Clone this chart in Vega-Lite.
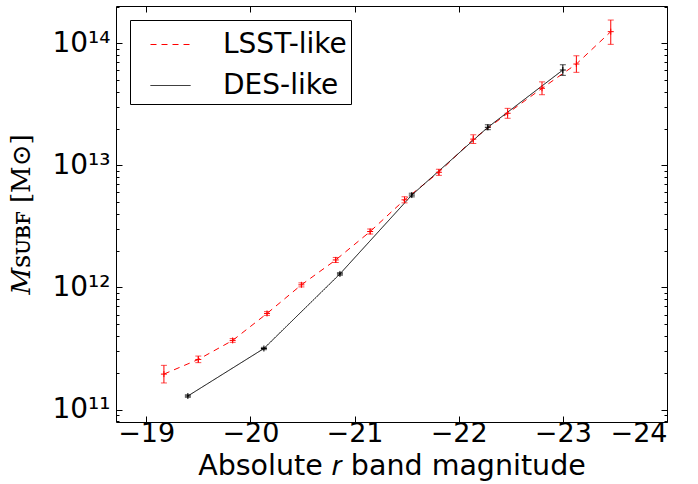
{
  "$schema": "https://vega.github.io/schema/vega-lite/v6.json",
  "width": 551,
  "height": 416,
  "autosize": {"type": "none"},
  "padding": {"left": 116, "top": 6, "right": 31, "bottom": 62},
  "config": {
    "view": {"stroke": "black", "strokeWidth": 1},
    "font": "DejaVu Sans",
    "axis": {"domain": false, "grid": false, "labelColor": "black", "tickColor": "black", "titleColor": "black", "labelFont": "DejaVu Sans", "titleFont": "DejaVu Sans", "titleFontWeight": "normal"},
    "legend": {"orient": "top-left", "offset": 14, "symbolType": "stroke", "symbolSize": 1600, "symbolStrokeWidth": 1, "labelFontSize": 28, "labelFont": "DejaVu Sans", "labelColor": "black", "strokeColor": "black", "fillColor": "white", "strokeWidth": 1, "padding": 4, "rowPadding": 6, "labelOffset": 32, "symbolOffset": 16, "labelLimit": 400, "cornerRadius": 0}
  },
  "data": {"values": [
    {"survey": "LSST-like", "mag": -19.17, "mass": 1.95e11, "lo": 1.65e11, "hi": 2.30e11},
    {"survey": "LSST-like", "mag": -19.50, "mass": 2.57e11, "lo": 2.42e11, "hi": 2.74e11},
    {"survey": "LSST-like", "mag": -19.83, "mass": 3.68e11, "lo": 3.55e11, "hi": 3.81e11},
    {"survey": "LSST-like", "mag": -20.16, "mass": 6.12e11, "lo": 5.90e11, "hi": 6.34e11},
    {"survey": "LSST-like", "mag": -20.49, "mass": 1.05e12, "lo": 1.01e12, "hi": 1.09e12},
    {"survey": "LSST-like", "mag": -20.82, "mass": 1.68e12, "lo": 1.60e12, "hi": 1.76e12},
    {"survey": "LSST-like", "mag": -21.15, "mass": 2.87e12, "lo": 2.74e12, "hi": 3.01e12},
    {"survey": "LSST-like", "mag": -21.48, "mass": 5.22e12, "lo": 4.93e12, "hi": 5.53e12},
    {"survey": "LSST-like", "mag": -21.81, "mass": 8.77e12, "lo": 8.28e12, "hi": 9.29e12},
    {"survey": "LSST-like", "mag": -22.14, "mass": 1.64e13, "lo": 1.51e13, "hi": 1.78e13},
    {"survey": "LSST-like", "mag": -22.47, "mass": 2.67e13, "lo": 2.43e13, "hi": 2.93e13},
    {"survey": "LSST-like", "mag": -22.80, "mass": 4.28e13, "lo": 3.79e13, "hi": 4.83e13},
    {"survey": "LSST-like", "mag": -23.13, "mass": 6.76e13, "lo": 5.78e13, "hi": 7.90e13},
    {"survey": "LSST-like", "mag": -23.46, "mass": 1.245e14, "lo": 9.8e13, "hi": 1.55e14},
    {"survey": "DES-like", "mag": -19.40, "mass": 1.29e11, "lo": 1.26e11, "hi": 1.32e11},
    {"survey": "DES-like", "mag": -20.13, "mass": 3.16e11, "lo": 3.09e11, "hi": 3.23e11},
    {"survey": "DES-like", "mag": -20.86, "mass": 1.29e12, "lo": 1.26e12, "hi": 1.32e12},
    {"survey": "DES-like", "mag": -21.55, "mass": 5.71e12, "lo": 5.52e12, "hi": 5.91e12},
    {"survey": "DES-like", "mag": -22.28, "mass": 2.05e13, "lo": 1.96e13, "hi": 2.15e13},
    {"survey": "DES-like", "mag": -23.00, "mass": 6.04e13, "lo": 5.46e13, "hi": 6.67e13}
  ]},
  "resolve": {"axis": {"x": "independent", "y": "independent"}},
  "layer": [
    {
      "mark": {"type": "line", "strokeWidth": 1},
      "encoding": {
        "x": {"field": "mag", "type": "quantitative",
          "scale": {"domain": [-24, -18.71], "reverse": true, "nice": false, "zero": false},
          "axis": {"orient": "bottom", "values": [-19, -20, -21, -22, -23, -24], "tickSize": -6, "labelFontSize": 27, "labelPadding": 4, "title": "Absolute 𝑟 band magnitude", "titleFontSize": 28.5, "titlePadding": 5}},
        "y": {"field": "mass", "type": "quantitative",
          "scale": {"type": "log", "domain": [7.9e10, 2.02e14], "nice": false},
          "axis": {"orient": "left",
            "values": [8e10, 9e10, 1e11, 2e11, 3e11, 4e11, 5e11, 6e11, 7e11, 8e11, 9e11, 1e12, 2e12, 3e12, 4e12, 5e12, 6e12, 7e12, 8e12, 9e12, 1e13, 2e13, 3e13, 4e13, 5e13, 6e13, 7e13, 8e13, 9e13, 1e14, 2e14],
            "labelExpr": "datum.value == 1e11 ? '10¹¹' : datum.value == 1e12 ? '10¹²' : datum.value == 1e13 ? '10¹³' : datum.value == 1e14 ? '10¹⁴' : ''",
            "tickSize": {"condition": {"test": "datum.value == 1e11 || datum.value == 1e12 || datum.value == 1e13 || datum.value == 1e14", "value": -6}, "value": -3},
            "labelFontSize": 28, "labelPadding": 12,
            "title": "𝑀ꜱᴜʙꜰ [M⊙]", "titleFont": "DejaVu Serif", "titleFontSize": 26, "titlePadding": 17}},
        "color": {"field": "survey", "type": "nominal",
          "scale": {"domain": ["LSST-like", "DES-like"], "range": ["#ff0000", "#000000"]},
          "legend": {"title": null}},
        "strokeDash": {"field": "survey", "type": "nominal",
          "scale": {"domain": ["LSST-like", "DES-like"], "range": [[6, 5], [1, 0]]},
          "legend": {"title": null}},
        "order": {"field": "mag", "type": "quantitative", "sort": "descending"}
      }
    },
    {
      "mark": {"type": "rule", "strokeWidth": 1},
      "encoding": {
        "x": {"field": "mag", "type": "quantitative", "axis": null},
        "y": {"field": "lo", "type": "quantitative", "axis": null},
        "y2": {"field": "hi"},
        "color": {"field": "survey", "type": "nominal", "legend": null}
      }
    },
    {
      "mark": {"type": "tick", "orient": "horizontal", "size": 6, "thickness": 1},
      "encoding": {
        "x": {"field": "mag", "type": "quantitative", "axis": null},
        "y": {"field": "lo", "type": "quantitative", "axis": null},
        "color": {"field": "survey", "type": "nominal", "legend": null}
      }
    },
    {
      "mark": {"type": "tick", "orient": "horizontal", "size": 6, "thickness": 1},
      "encoding": {
        "x": {"field": "mag", "type": "quantitative", "axis": null},
        "y": {"field": "hi", "type": "quantitative", "axis": null},
        "color": {"field": "survey", "type": "nominal", "legend": null}
      }
    },
    {
      "mark": {"type": "point", "shape": "M-1,0H1M0,-1V1", "filled": false, "size": 36, "strokeWidth": 1, "opacity": 1},
      "encoding": {
        "x": {"field": "mag", "type": "quantitative",
          "axis": {"orient": "top", "values": [-19, -20, -21, -22, -23, -24], "tickSize": -6, "labels": false, "title": null}},
        "y": {"field": "mass", "type": "quantitative",
          "axis": {"orient": "right",
            "values": [8e10, 9e10, 1e11, 2e11, 3e11, 4e11, 5e11, 6e11, 7e11, 8e11, 9e11, 1e12, 2e12, 3e12, 4e12, 5e12, 6e12, 7e12, 8e12, 9e12, 1e13, 2e13, 3e13, 4e13, 5e13, 6e13, 7e13, 8e13, 9e13, 1e14, 2e14],
            "tickSize": {"condition": {"test": "datum.value == 1e11 || datum.value == 1e12 || datum.value == 1e13 || datum.value == 1e14", "value": -6}, "value": -3},
            "labels": false, "title": null}},
        "stroke": {"field": "survey", "type": "nominal", "scale": {"domain": ["LSST-like", "DES-like"], "range": ["#ff0000", "#000000"]}, "legend": null}
      }
    }
  ]
}
